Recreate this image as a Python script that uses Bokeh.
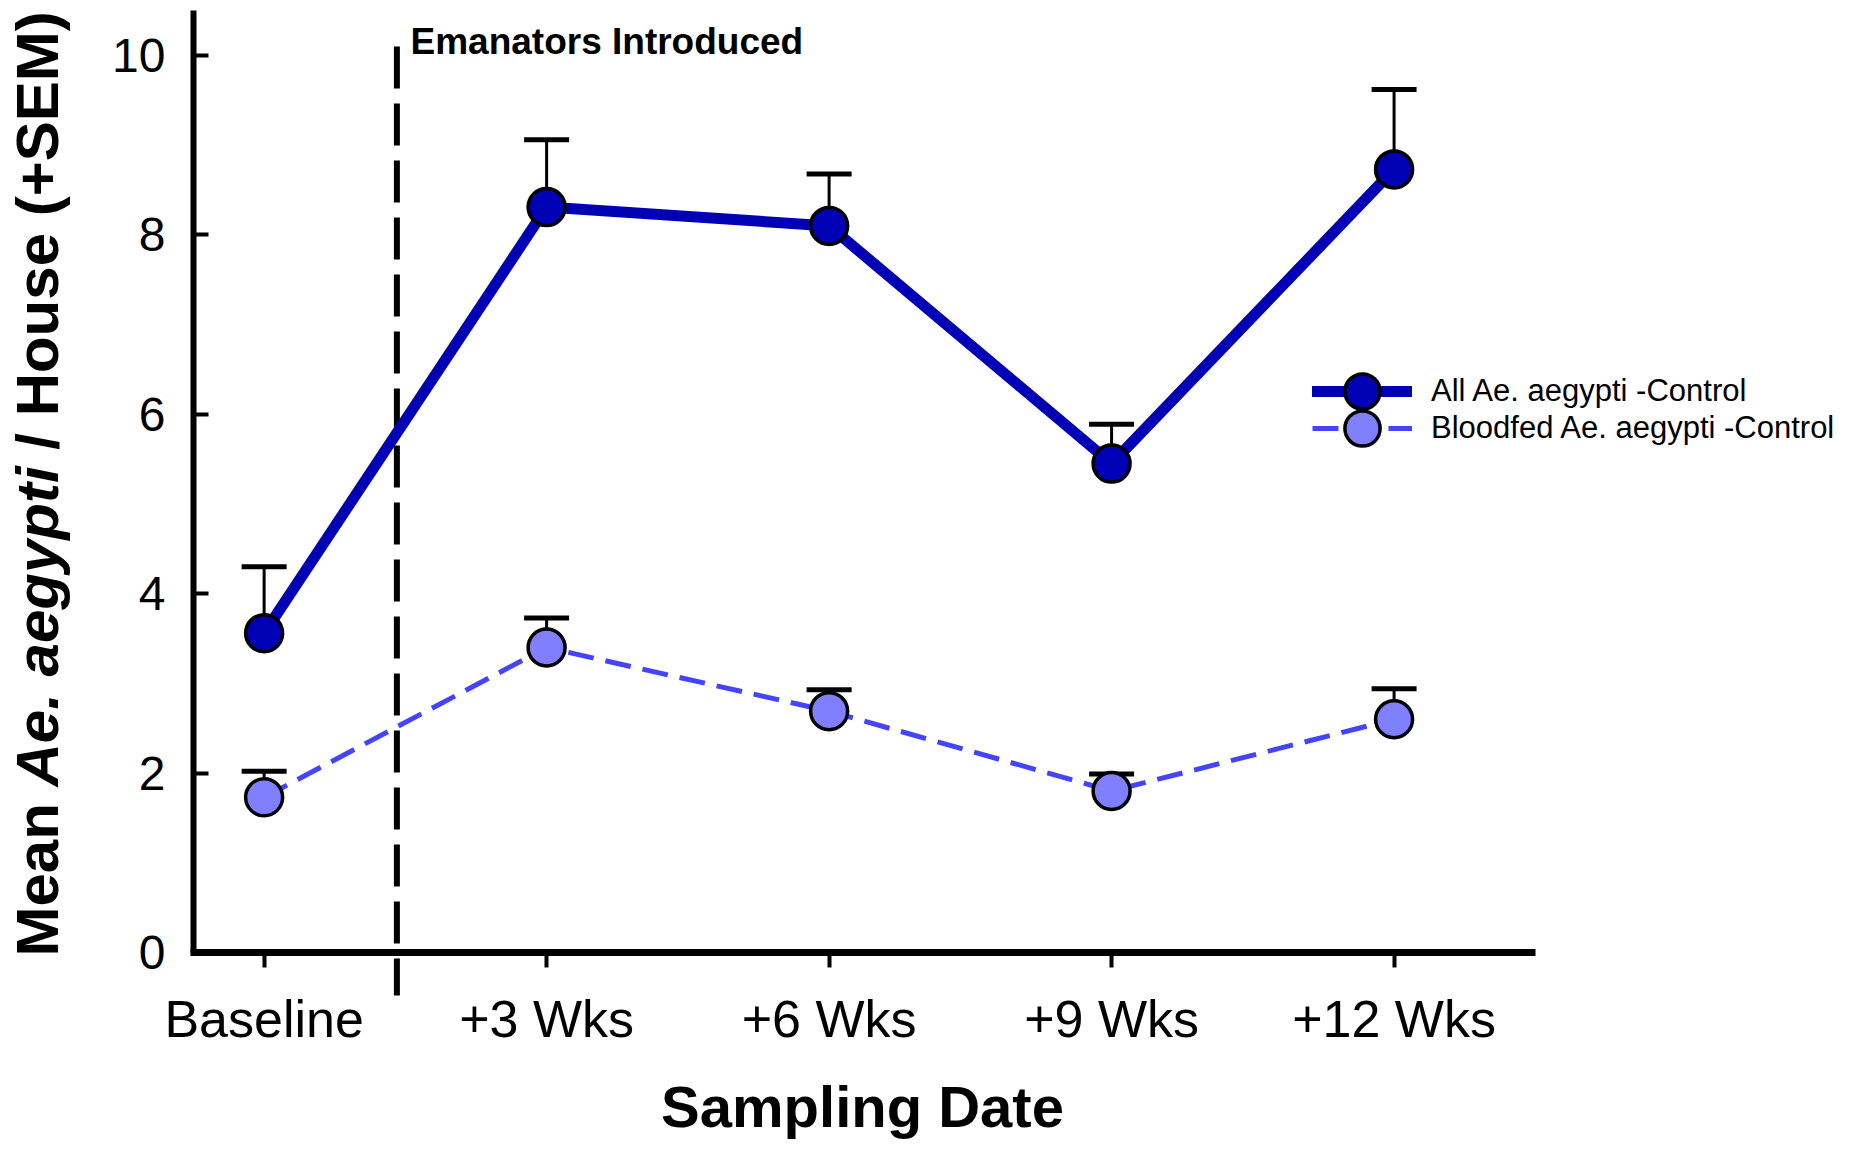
import numpy as np
from bokeh.plotting import figure
from bokeh.models import (ColumnDataSource, Whisker, TeeHead, FixedTicker, Label,
                          Legend, LegendItem, Range1d)
from bokeh.embed import file_html
from bokeh.resources import INLINE

# ---------------- data ----------------
categories = ["Baseline", "+3 Wks", "+6 Wks", "+9 Wks", "+12 Wks"]
all_mean = [3.56, 8.31, 8.10, 5.45, 8.73]
all_sem = [0.74, 0.75, 0.58, 0.44, 0.89]
bf_mean = [1.73, 3.40, 2.69, 1.80, 2.60]
bf_sem = [0.29, 0.33, 0.24, 0.19, 0.34]
y_ticks = [0, 2, 4, 6, 8, 10]
y_title_parts = ["Mean", "Ae. aegypti", "/ House (+SEM)"]
x_title = "Sampling Date"
event_text = "Emanators Introduced"
legend_labels = ["All Ae. aegypti -Control", "Bloodfed Ae. aegypti -Control"]

# ---------------- styles ----------------
FONT = "Liberation Sans"
ALL_COLOR = "#0000b4"
BF_LINE = "#4444ff"
BF_FILL = "#8080ff"
EVENT_X = 0.47
EVENT_Y = (10.1, -0.48)
X_LEFT, X_RIGHT = -0.25, 4.5

x = list(range(len(categories)))
src_all = ColumnDataSource(dict(x=x, y=all_mean,
                                upper=[m + s for m, s in zip(all_mean, all_sem)]))
src_bf = ColumnDataSource(dict(x=x, y=bf_mean,
                               upper=[m + s for m, s in zip(bf_mean, bf_sem)]))

W, H = 1845, 1145
p = figure(width=W, height=H, output_backend="svg", toolbar_location=None,
           x_range=Range1d(-0.9332, 5.598), y_range=Range1d(-2.152, 10.613),
           min_border_left=0, min_border_right=0, min_border_top=0,
           min_border_bottom=0)
p.outline_line_color = None
p.grid.visible = False
p.background_fill_color = "white"
p.border_fill_color = "white"

# y axis
ya = p.yaxis[0]
ya.fixed_location = X_LEFT
ya.ticker = FixedTicker(ticks=y_ticks)
ya.bounds = (0, 10.5)
ya.axis_line_width = 6
ya.axis_line_color = "black"
ya.major_tick_in = 15
ya.major_tick_out = 0
ya.major_tick_line_width = 4
ya.minor_tick_line_color = None
ya.major_label_text_font = FONT
ya.major_label_text_font_size = "48px"
ya.major_label_text_color = "black"
ya.major_label_standoff = 28

# x axis
xa = p.xaxis[0]
xa.fixed_location = 0
xa.ticker = FixedTicker(ticks=x)
xa.major_label_overrides = {i: c for i, c in enumerate(categories)}
xa.bounds = (X_LEFT - 0.01, X_RIGHT)
xa.axis_line_width = 7
xa.axis_line_color = "black"
xa.major_tick_out = 15
xa.major_tick_in = 0
xa.major_tick_line_width = 4
xa.minor_tick_line_color = None
xa.major_label_text_font = FONT
xa.major_label_text_font_size = "52px"
xa.major_label_text_color = "black"
xa.major_label_standoff = 23
xa.axis_label = None

# event line
p.line([EVENT_X, EVENT_X], list(EVENT_Y), line_color="black", line_width=6,
       line_dash="42 15")

# series lines
r_all_line = p.line("x", "y", source=src_all, line_color=ALL_COLOR, line_width=11,
                    line_join="round", line_cap="round")
r_bf_line = p.line("x", "y", source=src_bf, line_color=BF_LINE, line_width=5,
                   line_dash="26 12")

# error bars (upper only)
for src in (src_all, src_bf):
    wk = Whisker(source=src, base="x", upper="upper", lower="y", dimension="height",
                 line_color="black", line_width=3,
                 upper_head=TeeHead(size=45, line_width=5, line_color="black"),
                 lower_head=None, level="underlay")
    p.add_layout(wk)

r_all_pts = p.scatter("x", "y", source=src_all, size=37, fill_color=ALL_COLOR,
                      line_color="black", line_width=3.5)
r_bf_pts = p.scatter("x", "y", source=src_bf, size=37, fill_color=BF_FILL,
                     line_color="black", line_width=3.5)

# legend: one single-item legend per row so rows can sit close together
for label, rends, loc in zip(legend_labels,
                             [[r_all_line, r_all_pts], [r_bf_line, r_bf_pts]],
                             [(1312, 710), (1312, 673)]):
    lg = Legend(items=[LegendItem(label=label, renderers=rends)],
                location=loc, glyph_width=100, glyph_height=88, spacing=0,
                padding=0, margin=0, label_standoff=19,
                label_text_font=FONT, label_text_font_size="31px",
                label_text_color="black",
                border_line_color=None, background_fill_alpha=0)
    p.add_layout(lg)

# event annotation text
p.add_layout(Label(x=410, y=1104, x_units="screen", y_units="screen", text=event_text,
                   text_font=FONT, text_font_style="bold", text_font_size="37px",
                   text_color="black", text_align="left", text_baseline="alphabetic"))

# x-axis title
p.add_layout(Label(x=862, y=39, x_units="screen", y_units="screen", text=x_title,
                   text_font=FONT, text_font_style="bold", text_font_size="58px",
                   text_color="black", text_align="center", text_baseline="alphabetic"))

# y-axis title, composed of bold and bold-italic parts
for part, style, pos in zip(y_title_parts, ["bold", "bold italic", "bold"],
                            [189, 359, 695.8]):
    p.add_layout(Label(x=37, y=pos, x_units="screen", y_units="screen", text=part,
                       angle=np.pi / 2, text_font=FONT, text_font_style=style,
                       text_font_size="60px", text_color="black",
                       text_align="left", text_baseline="alphabetic"))

open("out.html", "w").write(file_html(p, INLINE))
